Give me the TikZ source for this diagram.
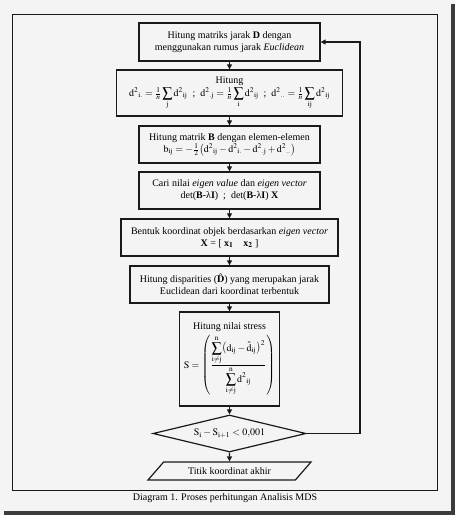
\documentclass[tikz,border=0pt]{standalone}
\usepackage{mathptmx}
\usepackage{fontspec}
\setmainfont{Liberation Serif}
\usetikzlibrary{shapes.geometric,arrows.meta}
\definecolor{bgcol}{HTML}{F4F4F4}
\definecolor{shadecol}{HTML}{3C3C3C}
\definecolor{inkcol}{HTML}{1A1A1A}
\newcommand{\rd}{\mathrm{d}}
\newcommand{\rdsq}[1]{\rd^{2}{}_{\mathrm{#1}}}
\tikzset{
  stepbox/.style={draw=inkcol, line width=1.3pt, align=center, inner sep=1pt,
    font=\fontsize{10}{12}\selectfont},
  decision/.style={draw=inkcol, line width=1.2pt, diamond, aspect=4, inner sep=0pt,
    minimum width=153pt, minimum height=37pt, font=\fontsize{10}{12}\selectfont},
  io/.style={draw=inkcol, line width=1.2pt, trapezium, trapezium left angle=30,
    trapezium right angle=150, trapezium stretches body=true, inner sep=1pt,
    minimum width=163pt, minimum height=18pt, font=\fontsize{10}{12}\selectfont},
  >={Triangle[length=5pt,width=5pt]}
}
\begin{document}
\begin{tikzpicture}[x=1pt,y=-1pt]
\useasboundingbox (0,0) rectangle (455,515);
\fill[bgcol] (0,0) rectangle (455,515);
\fill[shadecol] (451,4) rectangle (455,515);
\fill[shadecol] (4,511) rectangle (455,515);
\draw[inkcol, line width=1pt] (12,14) rectangle (437,490);
\node[stepbox, minimum width=181pt, minimum height=38pt] (matD) at (229.5,42)
  {Hitung matriks jarak \textbf{D} dengan\\menggunakan rumus jarak \textit{Euclidean}};
\node[stepbox, minimum width=226pt, minimum height=46pt] (rata) at (229.5,93)
  {Hitung\\[1pt]
  $\rdsq{i.}=\frac1n\displaystyle\sum_{\mathrm j}\rdsq{ij}$\enspace;\enspace
  $\rdsq{.j}=\frac1n\displaystyle\sum_{\mathrm i}\rdsq{ij}$\enspace;\enspace
  $\rdsq{..}=\frac1n\displaystyle\sum_{\mathrm{ij}}\rdsq{ij}$};
\node[stepbox, minimum width=181pt, minimum height=37pt] (matB) at (229.5,144.5)
  {Hitung matrik \textbf{B} dengan elemen-elemen\\
  $\mathrm{b_{ij}}=-\frac12\bigl(\rdsq{ij}-\rdsq{i.}-\rdsq{.j}+\rdsq{..}\bigr)$};
\node[stepbox, minimum width=181pt, minimum height=37pt] (eigen) at (229.5,190.5)
  {Cari nilai \textit{eigen value} dan \textit{eigen vector}\\
  det(\textbf{B}-λ\textbf{I})\enspace;\enspace det(\textbf{B}-λ\textbf{I}) \textbf{X}};
\node[stepbox, minimum width=217pt, minimum height=37pt] (koord) at (229.5,237.5)
  {Bentuk koordinat objek berdasarkan \textit{eigen vector}\\
  \textbf{X} = [ \textbf{x}$_{\mathbf 1}$\quad\textbf{x}$_{\mathbf 2}$ ]};
\node[stepbox, minimum width=199pt, minimum height=37pt] (dispar) at (229.5,284.5)
  {Hitung disparities ($\hat{\mathbf D}$) yang merupakan jarak\\Euclidean dari koordinat terbentuk};
\node[stepbox, minimum width=100pt, minimum height=94pt] (stress) at (229.5,359)
  {Hitung nilai stress\\[3pt]
  $\displaystyle\mathrm S=\left(\frac{\displaystyle\sum_{\mathrm{i}\neq\mathrm{j}}^{\mathrm n}\bigl(\rd_{\mathrm{ij}}-\hat{\rd}_{\mathrm{ij}}\bigr)^2}{\displaystyle\sum_{\mathrm{i}\neq\mathrm{j}}^{\mathrm n}\rdsq{ij}}\right)$};
\node[decision] (cek) at (229.5,433.5) {$\mathrm{S_i}-\mathrm{S_{i+1}}<0{,}001$};
\node[io] (akhir) at (229.5,471) {Titik koordinat akhir};
\node[font=\fontsize{10}{12}\selectfont] (caption) at (225,498) {Diagram 1. Proses perhitungan Analisis MDS};
\coordinate (balik) at (360,433.5);
\path[->, draw=inkcol, line width=1.2pt]
(matD) edge (rata)
(rata) edge (matB)
(matB) edge (eigen)
(eigen) edge (koord)
(koord) edge (dispar)
(dispar) edge (stress)
(stress) edge (cek)
(cek) edge (akhir);
\draw[->, inkcol, line width=1.2pt] (cek.east) -- (balik) |- (matD.east);
\end{tikzpicture}
\end{document}
